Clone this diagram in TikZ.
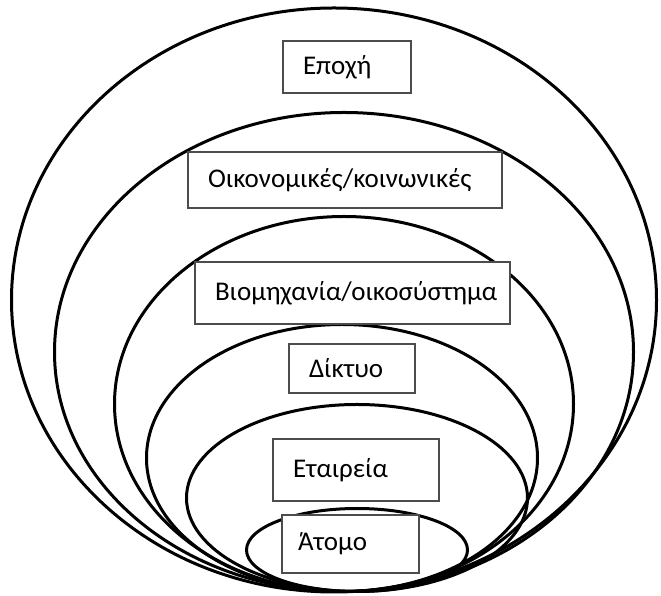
\documentclass[tikz,border=0pt]{standalone}
\usepackage{fontspec}
\setmainfont{Carlito}
\usetikzlibrary{shapes.geometric, positioning}
\definecolor{boxgray}{gray}{0.3}
\tikzset{
    ring/.style={
        ellipse, draw=black, line width=3pt, inner sep=0pt
    },
    labelbox/.style={
        rectangle, draw=boxgray, line width=1.2pt, fill=white, align=left,
        inner xsep=20pt, inner ysep=0pt, font=\fontsize{27}{31}\selectfont
    }
}

\begin{document}
\begin{tikzpicture}[x=1pt, y=1pt]

            \useasboundingbox (0,0) rectangle (661,596);

            % Nested levels, outer to inner
            \node[ring, minimum width=645pt, minimum height=584pt] (epoch) at (334,296) {};
            \node[ring, minimum width=579pt, minimum height=479pt] (social) at (344,244) {};
            \node[ring, minimum width=459pt, minimum height=375pt] (industry) at (344,192) {};
            \node[ring, minimum width=391pt, minimum height=267pt] (network) at (342,138) {};
            \node[ring, minimum width=341pt, minimum height=187pt] (firm) at (357,98) {};
            \node[ring, minimum width=221pt, minimum height=83pt] (person) at (357,46) {};

            % Labels
            \node[labelbox, text width=88pt, minimum height=52pt] (epochbox) at (347,529) {Εποχή};
            \node[labelbox, text width=274pt, minimum height=56pt] (socialbox) at (345,416) {Οικονομικές/κοινωνικές};
            \node[labelbox, text width=275pt, minimum height=62pt] (industrybox) at (352.5,303) {Βιομηχανία/οικοσύστημα};
            \node[labelbox, text width=86pt, minimum height=49pt] (networkbox) at (352,227.5) {Δίκτυο};
            \node[labelbox, text width=126pt, minimum height=62pt] (firmbox) at (356,126) {Εταιρεία};
            \node[labelbox, inner xsep=16pt, text width=105pt, minimum height=58pt] (personbox) at (350.5,52) {Άτομο};

        \end{tikzpicture}
\end{document}
